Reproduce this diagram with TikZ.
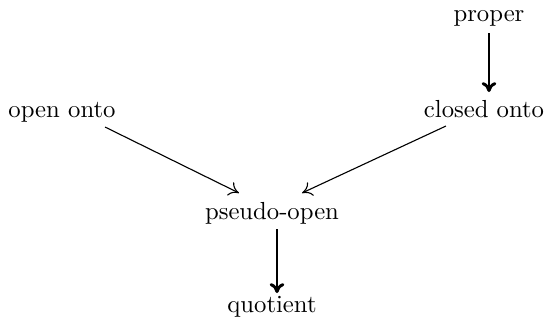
\documentclass[tikz,border=0pt]{standalone}
\usetikzlibrary{calc,arrows.meta}
\begin{document}
\begin{tikzpicture}[x=0.405pt,y=-0.405pt,
  lbl/.style={inner sep=0pt,anchor=base,font=\fontsize{10}{12}\selectfont},
  thinarrow/.style={-{To[length=4pt,width=6pt]},line width=0.45pt},
  thickarrow/.style={-{To[length=4pt,width=6pt]},line width=1.2pt}]
\useasboundingbox (0,0) rectangle (544,323);
\node[lbl] (proper) at (489,21) {proper};
\node[lbl] (closed) at (484,117) {closed onto};
\node[lbl] (open) at (62,117) {open onto};
\node[lbl] (pseudo) at (272,219) {pseudo-open};
\node[lbl] (quot) at (272,312) {quotient};
\draw[thickarrow] ($(proper.base)+(0,12)$) -- ($(proper.base)+(0,71)$);
\draw[thinarrow] ($(open.base)+(43,10)$) -- ($(pseudo.base)+(-33,-26)$);
\draw[thinarrow] ($(closed.base)+(-38,9)$) -- ($(pseudo.base)+(30,-26)$);
\draw[thickarrow] ($(pseudo.base)+(5,10)$) -- ($(pseudo.base)+(5,74)$);
\end{tikzpicture}
\end{document}
